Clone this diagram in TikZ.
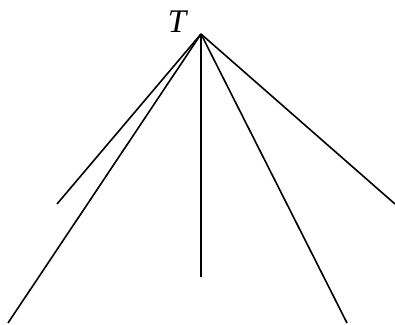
\documentclass[tikz,border=0pt]{standalone}
\usepackage{fontspec}
\setmainfont{Liberation Serif}
\usetikzlibrary{positioning,calc}
\tikzset{every picture/.style={line width=0.75pt}}
\tikzset{branch/.style={line width=1.6pt}}

\begin{document}
\begin{tikzpicture}[x=1pt,y=-1pt]
    % 边界
    \useasboundingbox (0,0) rectangle (395,324);

    % 顶点与标注
    \coordinate (top) at (201,34);
    \node[font=\fontsize{33}{36}\selectfont\itshape, inner sep=0pt] (label) at (177,22) {T};

    % 分支端点
    \coordinate (e1) at (57,204);
    \coordinate (e2) at (8,323);
    \coordinate (e3) at (201,277);
    \coordinate (e4) at (347,323);
    \coordinate (e5) at (395,204);

    % 绘制分支
    \foreach \e in {e1,e2,e3,e4,e5}
        \draw[branch] (top) -- (\e);
\end{tikzpicture}
\end{document}
